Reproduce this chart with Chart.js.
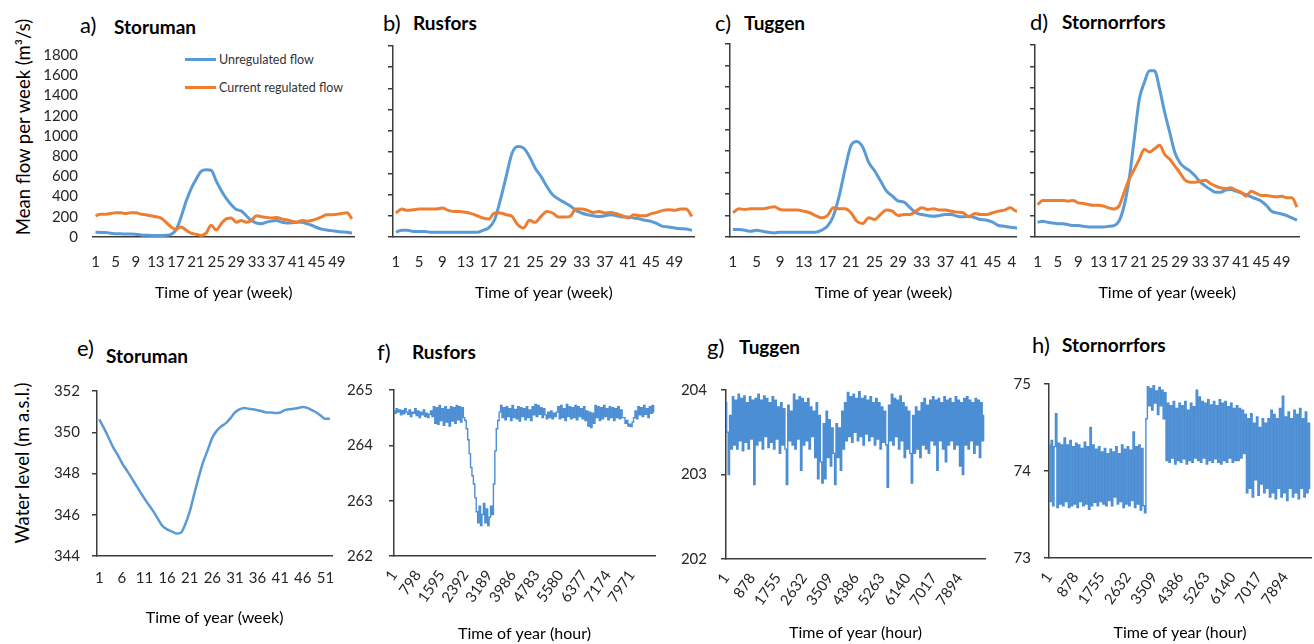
<!DOCTYPE html>
<html><head><meta charset="utf-8">
<script src="https://cdn.jsdelivr.net/npm/chart.js@4.4.1/dist/chart.umd.min.js"></script>
<style>
html,body{margin:0;padding:0;background:#fff}
body{width:1314px;height:644px;position:relative;overflow:hidden;font-family:Lato,"Open Sans",sans-serif;color:#000}
.box{position:absolute;overflow:hidden}
.box canvas{position:absolute;left:0;top:0}
.t{position:absolute;white-space:nowrap;line-height:1}
.lab{font-size:22px}
.name{font-size:19px;font-weight:bold}
.ytitle{position:absolute;white-space:nowrap;font-size:18.5px;line-height:1;transform:translate(-50%,-50%) rotate(-90deg)}
.leg{position:absolute;font-size:12.5px;line-height:1;white-space:nowrap;color:#333}
.leg i{display:inline-block;width:31px;height:3px;vertical-align:middle;margin-right:3px;position:relative;top:-1px}
</style></head><body>

<div class="t lab" style="left:80px;top:14px">a)</div><div class="t name" style="left:114px;top:17px">Storuman</div>
<div class="t lab" style="left:383px;top:12px">b)</div><div class="t name" style="left:413px;top:13px">Rusfors</div>
<div class="t lab" style="left:715px;top:12px">c)</div><div class="t name" style="left:744px;top:13px">Tuggen</div>
<div class="t lab" style="left:1030px;top:11px">d)</div><div class="t name" style="left:1062px;top:12px">Stornorrfors</div>
<div class="t lab" style="left:77px;top:337px">e)</div><div class="t name" style="left:106px;top:346px">Storuman</div>
<div class="t lab" style="left:377px;top:341px">f)</div><div class="t name" style="left:412px;top:342px">Rusfors</div>
<div class="t lab" style="left:707px;top:336px">g)</div><div class="t name" style="left:739px;top:337px">Tuggen</div>
<div class="t lab" style="left:1032px;top:334px">h)</div><div class="t name" style="left:1062px;top:335px">Stornorrfors</div>

<div class="ytitle" style="left:23px;top:127px">Mean flow per week (m³/s)</div>
<div class="ytitle" style="left:22px;top:463px">Water level (m a.s.l.)</div>

<div class="leg" style="left:185px;top:54px"><i style="background:#5B9BD5"></i>Unregulated flow</div>
<div class="leg" style="left:185px;top:82px"><i style="background:#ED7D31"></i>Current regulated flow</div>

<script>
// ---------- data ----------
const weeks = [1,2,3,4,5,6,7,8,9,10,11,12,13,14,15,16,17,18,19,20,21,22,23,24,25,26,27,28,29,30,31,32,33,34,35,36,37,38,39,40,41,42,43,44,45,46,47,48,49,50,51,52];
const flowWeekTicks = ['1','5','9','13','17','21','25','29','33','37','41','45','49'];
const levelWeekTicks = ['1','6','11','16','21','26','31','36','41','46','51'];
const hourTicksRusfors = [1,798,1595,2392,3189,3986,4783,5580,6377,7174,7971];
const hourTicksTuggenStornorrfors = [1,878,1755,2632,3509,4386,5263,6140,7017,7894];
const HOURS_PER_SAMPLE = 48;

const storumanUnreg = [47,45,45,38,31,31,30,30,28,20,17,16,15,15,17,25,69,195,350,477,570,650,665,660,555,460,383,320,273,257,210,163,138,132,147,157,163,147,138,140,147,145,132,116,94,78,69,63,56,50,47,38];
const storumanReg = [210,226,226,232,241,241,232,241,241,226,220,210,200,188,147,100,75,100,69,38,28,16,38,116,69,132,179,188,147,163,147,163,210,200,194,188,194,179,170,157,147,163,157,163,179,200,220,220,226,232,241,179];
const rusforsUnreg = [47,63,63,53,53,53,44,44,44,44,44,44,44,44,44,63,85,163,351,571,790,853,837,759,649,571,477,398,357,326,295,251,226,210,200,194,200,210,200,188,188,179,170,157,147,125,100,94,85,78,75,63];
const rusforsReg = [226,263,251,257,263,263,263,263,273,251,241,241,232,220,200,179,170,226,226,210,194,116,85,157,138,194,241,226,188,188,194,263,263,251,232,241,226,232,220,200,179,210,200,200,220,232,251,257,251,263,263,194];
const tuggenUnreg = [69,69,63,53,63,53,44,38,44,44,44,44,44,44,44,63,100,194,383,633,853,891,837,696,618,524,430,383,336,326,273,226,210,200,194,200,210,210,194,188,194,179,163,157,138,107,100,91,85,80,75,70];
const tuggenReg = [226,263,257,263,263,263,273,282,257,251,251,251,241,226,200,179,200,273,263,263,226,147,125,179,163,210,251,241,200,210,210,241,273,257,263,251,251,241,232,226,188,220,210,210,226,241,251,273,241,250,255,240];
const stornUnreg = [138,147,138,132,125,125,116,107,107,100,94,94,94,94,100,107,147,289,540,916,1292,1449,1558,1558,1386,1167,978,790,696,649,618,571,514,477,445,420,420,439,445,430,414,398,376,357,336,295,241,226,216,200,179,157];
const stornReg = [304,342,342,342,342,342,336,342,320,314,304,298,298,289,273,263,289,414,540,633,728,822,797,828,859,774,728,665,602,533,514,514,524,533,502,477,461,452,461,439,420,383,430,408,389,389,383,376,383,367,367,282];

const storumanLevel = [350.63,350.21,349.77,349.30,348.93,348.52,348.18,347.84,347.48,347.12,346.78,346.46,346.15,345.79,345.45,345.29,345.19,345.09,345.12,345.53,346.15,347.01,347.84,348.57,349.15,349.74,350.08,350.29,350.44,350.68,350.96,351.11,351.18,351.14,351.11,351.07,351.02,350.96,350.96,350.93,350.96,351.07,351.11,351.14,351.18,351.22,351.18,351.07,350.96,350.80,350.65,350.65];

const rusforsLevel = [
264.62,264.58,264.66,264.6,264.64,264.55,264.63,264.57,264.66,264.6,264.56,264.64,264.52,264.6,264.58,264.66,264.54,264.62,264.5,264.6,264.55,264.64,264.52,264.58,264.5,264.56,264.62,264.52,
264.7,264.4,264.68,264.38,264.72,264.45,264.66,264.36,264.7,264.42,264.65,264.35,264.7,264.44,264.68,264.4,264.72,264.46,264.7,264.42,264.68,264.5,
264.45,264.3,264.1,263.85,263.6,263.45,263.3,263.05,262.8,
262.6,262.9,262.55,262.75,262.95,262.6,262.85,262.55,262.7,262.9,262.75,
263.3,263.9,264.3,264.45,264.6,
264.72,264.5,264.68,264.46,264.7,264.52,264.66,264.45,264.72,264.5,264.65,264.48,264.7,264.44,264.68,264.52,264.66,264.46,264.7,264.5,264.64,264.45,264.7,264.55,264.74,264.52,264.72,264.56,264.68,264.5,264.66,
264.55,264.48,264.6,264.5,264.62,264.48,264.58,264.52,264.6,
264.7,264.48,264.72,264.5,264.66,264.45,264.74,264.52,264.7,264.48,264.68,264.5,264.72,264.46,264.7,264.52,264.66,264.48,264.7,264.45,264.62,
264.35,264.6,264.32,264.58,264.4,
264.72,264.5,264.7,264.45,264.68,264.48,264.72,264.52,264.66,264.46,264.7,264.5,264.68,264.45,264.66,264.5,264.7,264.48,264.64,264.5,
264.5,264.4,264.45,264.35,264.38,264.34,264.42,
264.5,264.62,264.48,264.7,264.55,264.68,264.52,264.72,264.56,264.66,264.5,264.7,264.58,264.72,264.6];

const tuggenLevel = [
203.85,203.5,203.0,203.7,203.3,
203.92,203.35,203.88,203.3,203.95,203.4,203.9,203.28,203.93,203.38,203.85,203.3,203.92,203.42,203.88,
202.88,
203.9,203.35,203.95,203.4,203.88,203.3,203.93,203.45,203.9,203.32,203.85,203.38,203.92,203.3,203.88,203.42,203.8,203.25,203.85,203.35,203.78,203.3,
202.88,
203.82,203.4,203.75,203.35,203.95,203.3,203.88,203.42,203.92,203.05,203.9,203.35,203.85,203.4,203.9,203.3,203.8,
203.45,203.75,203.2,203.85,202.95,203.7,203.15,202.9,203.6,202.95,203.75,203.2,203.65,203.1,203.55,203.25,
202.88,
203.6,203.2,203.55,203.05,203.75,203.3,203.85,203.4,
203.97,203.45,203.92,203.38,203.95,203.5,203.9,203.4,203.98,203.45,203.9,203.35,203.93,203.48,203.88,203.4,203.92,203.45,203.85,203.35,203.9,203.42,203.85,203.3,203.8,203.38,203.75,203.35,
202.85,
203.82,203.4,203.95,203.35,203.9,203.45,203.88,203.3,203.93,203.4,203.85,203.2,203.8,203.3,203.75,203.25,
202.9,
203.7,203.25,203.8,203.3,203.75,203.2,203.85,203.35,203.9,203.3,203.82,203.25,203.88,203.4,
203.92,203.35,203.88,203.05,203.9,203.4,203.85,203.3,203.92,203.15,203.88,203.35,203.9,203.4,203.85,203.3,203.92,203.35,203.88,203.1,203.85,
203.0,
203.9,203.35,203.92,203.3,203.88,203.4,203.85,203.25,203.9,203.35,203.88,203.2,203.85,203.4,203.7];

const stornLevel = [
74.3,73.65,74.35,73.6,74.28,74.66,73.58,74.32,73.62,74.3,73.6,74.38,73.65,74.3,73.58,
74.35,73.6,74.28,73.62,74.32,73.58,74.3,73.65,74.26,73.6,74.33,73.62,74.28,73.56,74.5,73.6,74.3,73.64,74.25,73.6,74.28,73.65,74.22,73.62,74.26,73.6,
74.2,73.66,74.25,73.6,74.22,73.7,74.28,73.62,74.2,73.65,74.3,73.58,74.25,73.62,74.28,73.6,74.24,73.66,74.45,73.58,74.28,73.62,74.3,73.55,74.26,73.6,73.52,
74.6,74.97,74.75,74.95,74.7,74.98,74.78,74.92,74.65,74.96,74.75,74.93,74.6,74.9,
74.12,74.78,74.1,74.75,74.15,74.8,74.08,74.72,74.12,74.78,74.1,74.75,74.14,74.8,74.08,74.7,74.12,74.78,74.1,74.74,74.15,
74.93,
74.12,74.85,74.1,74.8,74.15,74.78,74.08,74.82,74.12,74.76,74.1,74.8,74.14,74.75,74.1,74.82,74.08,74.78,74.12,74.8,74.1,74.74,74.15,74.78,74.1,74.72,74.12,
74.75,74.12,74.72,74.15,74.7,74.2,
74.65,73.75,74.6,73.8,74.66,73.7,74.55,73.9,74.62,73.72,74.5,73.85,74.6,73.75,74.55,73.8,74.6,
73.7,74.7,73.75,74.65,73.68,74.6,73.8,74.72,73.7,74.86,73.75,74.62,73.66,74.68,73.8,74.6,73.7,74.7,73.75,74.65,73.68,74.72,73.8,74.6,73.7,74.68,73.75,74.55,73.8];

// ---------- style ----------
const F = 'Lato, "Open Sans", sans-serif';
const AXIS = '#3c3c3c', TXT = '#262626';
const BLUE = '#5B9BD5', ORANGE = '#ED7D31', HOURLY = '#4C8ED4';

function build(g, labels, datasets, xs, ys) {
  const padT = 15, padR = g.padR ?? 6;
  const left = g.L - g.yW, top = g.T - padT;
  const w = g.R + padR - left, h = g.B + g.xH - top;
  const box = document.createElement('div');
  box.className = 'box';
  Object.assign(box.style, {left: left + 'px', top: top + 'px', width: (g.clip ? g.clip - left : w) + 'px', height: h + 'px'});
  const cv = document.createElement('canvas');
  cv.width = w; cv.height = h; cv.style.width = w + 'px'; cv.style.height = h + 'px';
  box.appendChild(cv); document.body.appendChild(box);
  xs.afterFit = s => { s.height = g.xH; };
  ys.afterFit = s => { s.width = g.yW; };
  return new Chart(cv, {type: 'line', data: {labels, datasets}, options: {
    responsive: false, maintainAspectRatio: false, animation: false, devicePixelRatio: 1,
    layout: {padding: {top: padT, right: padR, bottom: 0, left: 0}},
    plugins: {legend: {display: false}, tooltip: {enabled: false}},
    elements: {point: {radius: 0}},
    scales: {x: xs, y: ys}}});
}

function weekX(tickLabels, pad, titlePad) {
  return {type: 'category', offset: true, grid: {display: false, drawTicks: false},
    border: {display: true, color: AXIS, width: 1.5},
    ticks: {autoSkip: false, maxRotation: 0, minRotation: 0, padding: pad, color: TXT, font: {family: F, size: 15},
      callback(v) { const l = String(this.getLabelForValue(v)); return tickLabels.includes(l) ? l : ''; }},
    title: {display: true, text: 'Time of year (week)', color: '#000', font: {family: F, size: 16}, padding: {top: 0, bottom: titlePad}}};
}
function flowY(showLabels) {
  return {min: 0, max: 1800,
    ticks: {stepSize: 200, autoSkip: false, display: showLabels, padding: 15, color: TXT, font: {family: F, size: 15}, callback: v => String(v)},
    grid: showLabels ? {display: false, drawTicks: false} : {display: true, drawOnChartArea: false, drawTicks: true, tickLength: 5, color: AXIS, lineWidth: 1.5},
    border: {display: !showLabels, color: AXIS, width: 1.5}};
}
function levelY(min, max, step, pad) {
  return {min, max, ticks: {stepSize: step, autoSkip: false, padding: pad, color: TXT, font: {family: F, size: 15}, callback: v => String(v)},
    grid: {display: true, drawOnChartArea: false, drawTicks: true, tickLength: 5, color: AXIS, lineWidth: 1.5},
    border: {display: true, color: AXIS, width: 1.5}};
}
function hourX(tickVals, titlePad) {
  return {type: 'linear', min: 1, max: 8760,
    afterBuildTicks(s) { s.ticks = tickVals.map(v => ({value: v})); },
    ticks: {autoSkip: false, minRotation: 55, maxRotation: 55, padding: 3, color: TXT, font: {family: F, size: 15}, callback: v => String(v)},
    grid: {display: false}, border: {display: true, color: AXIS, width: 1.5},
    title: {display: true, text: 'Time of year (hour)', color: '#000', font: {family: F, size: 16}, padding: {top: 0, bottom: titlePad}}};
}
function flowSets(unreg, reg) {
  return [
    {label: 'Current regulated flow', data: reg, borderColor: ORANGE, borderWidth: 3, cubicInterpolationMode: 'monotone', pointRadius: 0},
    {label: 'Unregulated flow', data: unreg, borderColor: BLUE, borderWidth: 3, cubicInterpolationMode: 'monotone', pointRadius: 0}
  ];
}
function hourSet(levels) {
  return [{label: 'Water level', data: levels.map((y, i) => ({x: 1 + i * HOURS_PER_SAMPLE, y})),
    borderColor: HOURLY, borderWidth: 1.4, stepped: 'middle', pointRadius: 0}];
}

// ---------- top row ----------
build({L: 93, R: 362, T: 46, B: 237, yW: 93, xH: 70}, weeks, flowSets(storumanUnreg, storumanReg), weekX(flowWeekTicks, 16, 5), flowY(true));
build({L: 393, R: 702, T: 46, B: 237, yW: 20, xH: 70}, weeks, flowSets(rusforsUnreg, rusforsReg), weekX(flowWeekTicks, 16, 5), flowY(false));
build({L: 730, R: 1044, T: 44, B: 237, yW: 20, xH: 70, clip: 1017}, weeks, flowSets(tuggenUnreg, tuggenReg), weekX(flowWeekTicks, 16, 5), flowY(false));
build({L: 1035, R: 1311, T: 45, B: 237, yW: 20, xH: 70, padR: 2}, weeks, flowSets(stornUnreg, stornReg), weekX(flowWeekTicks, 16, 5), flowY(false));

// ---------- bottom row ----------
build({L: 97, R: 337, T: 385, B: 556, yW: 60, xH: 75}, weeks,
  [{label: 'Water level', data: storumanLevel, borderColor: BLUE, borderWidth: 2.5, cubicInterpolationMode: 'monotone', pointRadius: 0}],
  weekX(levelWeekTicks, 13, 4), levelY(344, 352, 2, 12));
build({L: 394, R: 655, T: 380, B: 556, yW: 60, xH: 87}, undefined, hourSet(rusforsLevel), hourX(hourTicksRusfors, 0), levelY(262, 265, 1, 16));
build({L: 726, R: 985, T: 382, B: 559, yW: 60, xH: 83}, undefined, hourSet(tuggenLevel), hourX(hourTicksTuggenStornorrfors, 0), levelY(202, 204, 1, 14));
build({L: 1049, R: 1311, T: 377, B: 558, yW: 60, xH: 84, padR: 2}, undefined, hourSet(stornLevel), hourX(hourTicksTuggenStornorrfors, 0), levelY(73, 75, 1, 13));
</script>
</body></html>
